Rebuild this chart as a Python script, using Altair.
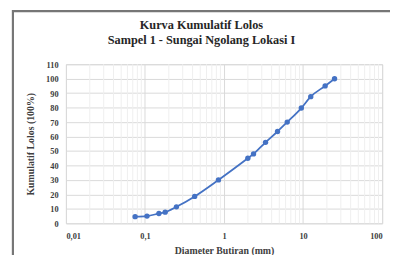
import altair as alt
import pandas as pd

diameter = [0.075, 0.106, 0.15, 0.18, 0.25, 0.425, 0.85, 2.0, 2.36, 3.35, 4.75, 6.3, 9.5, 12.5, 19.0, 25.0]
lolos = [4.6, 5.0, 6.8, 7.7, 11.4, 18.6, 30.0, 45.0, 48.0, 56.0, 63.5, 70.0, 79.7, 87.6, 95.0, 100.0]
x_ticks = [0.01, 0.1, 1, 10, 100]
y_ticks = list(range(0, 111, 10))
minor_x = [m * d for d in [0.01, 0.1, 1, 10] for m in range(2, 10)]

df = pd.DataFrame({"d": diameter, "p": lolos})
minor_df = pd.DataFrame({"m": minor_x})

FONT = "Liberation Serif"
BLUE = "#4472C4"

xscale = alt.Scale(type="log", domain=[0.01, 100])
yscale = alt.Scale(domain=[0, 110])

xaxis = alt.Axis(values=x_ticks, title="Diameter Butiran (mm)",
                 labelExpr="replace(format(datum.value, '~g'), '.', ',')",
                 ticks=False, domain=False, gridColor="#d9d9d9", labelPadding=8,
                 titlePadding=6, labelOverlap=False)
yaxis = alt.Axis(values=y_ticks, title="Kumulatif Lolos (100%)", ticks=False, domain=False,
                 gridColor="#d9d9d9", labelPadding=8, titlePadding=10, labelOverlap=False)

frame = alt.Chart(pd.DataFrame({"a": [0]})).mark_rect(
    fill=None, stroke="#767676", strokeWidth=2.2, clip=False
).encode(x=alt.value(-54), x2=alt.value(340), y=alt.value(-54), y2=alt.value(230))

minor = alt.Chart(minor_df).mark_rule(color="#efefef", strokeWidth=1).encode(
    x=alt.X("m:Q", scale=xscale, axis=xaxis)
)

line = alt.Chart(df).mark_line(color=BLUE, strokeWidth=1.8, interpolate="monotone").encode(
    x=alt.X("d:Q", scale=xscale, axis=xaxis),
    y=alt.Y("p:Q", scale=yscale, axis=yaxis),
)
pts = alt.Chart(df).mark_circle(color=BLUE, size=30, opacity=1).encode(
    x=alt.X("d:Q", scale=xscale, axis=xaxis),
    y=alt.Y("p:Q", scale=yscale, axis=yaxis),
)

chart = alt.layer(minor, line, pts, frame).properties(
    width=322, height=162,
    autosize=alt.AutoSizeParams(type="none"),
    padding={"left": 59, "top": 55, "right": 8, "bottom": 30},
    title=alt.TitleParams(
        text=["Kurva Kumulatif Lolos", "Sampel 1 - Sungai Ngolang Lokasi I"],
        font=FONT, fontSize=12.5, fontWeight="bold", color="#262626",
        anchor="middle", frame="group", dx=-23, dy=54, offset=17, lineHeight=15,
    ),
).configure_view(stroke="#d9d9d9").configure_axis(
    labelFont=FONT, labelFontSize=8.5, labelFontWeight="bold", labelColor="#404040",
    titleFont=FONT, titleFontSize=10, titleFontWeight="bold", titleColor="#404040",
)

chart.save("out.html", embed_options={"renderer": "svg", "actions": False})
